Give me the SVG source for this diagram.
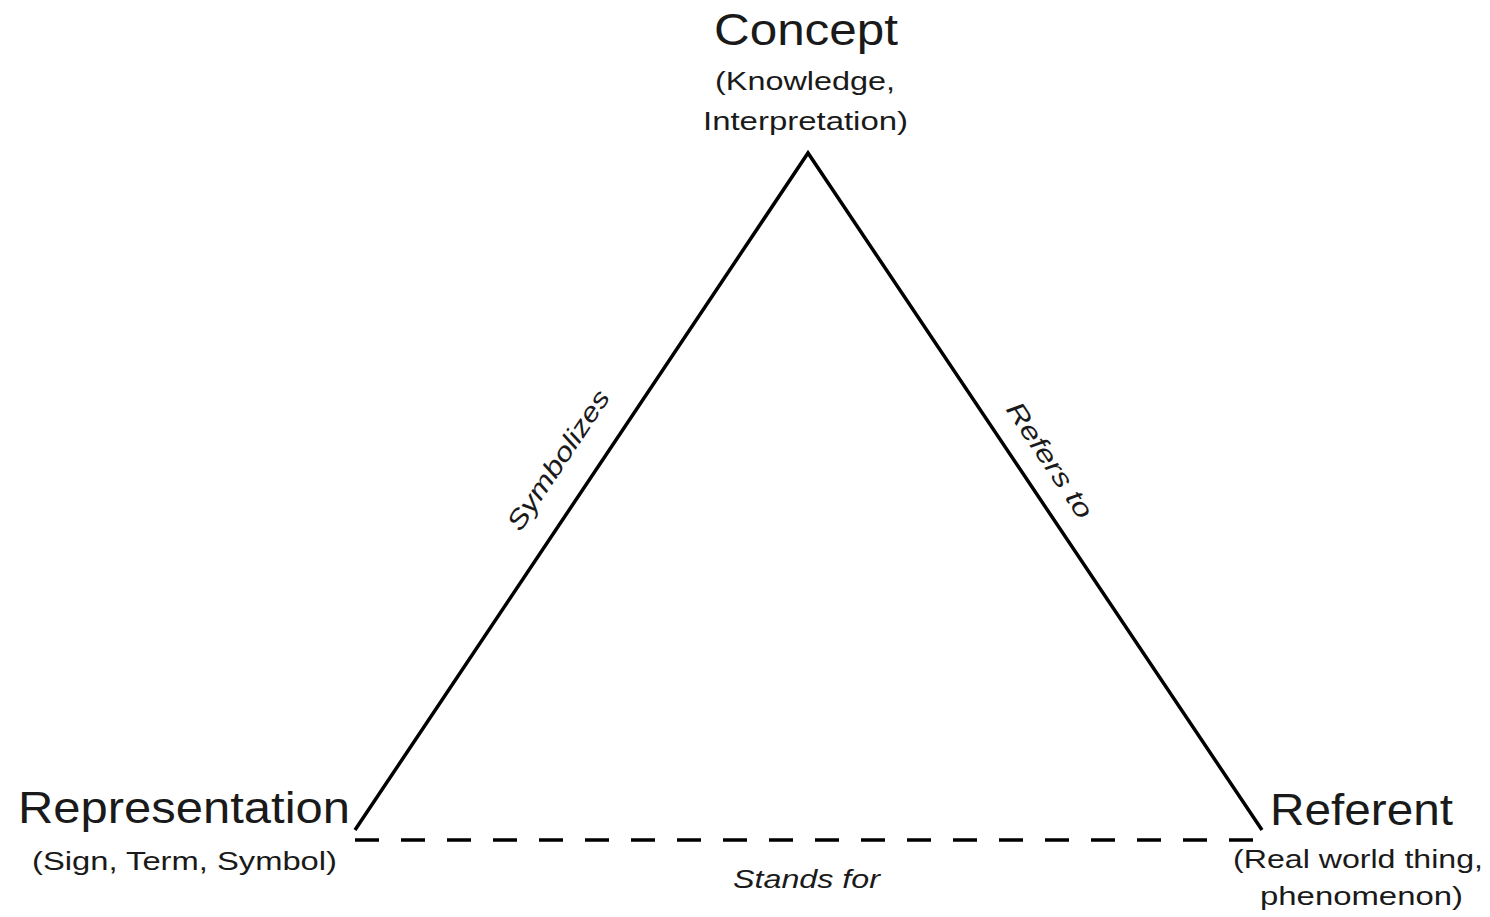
<svg xmlns="http://www.w3.org/2000/svg" width="1490" height="917" viewBox="0 0 1490 917">
<style>
text{font-family:"Liberation Sans",Arial,sans-serif;fill:#1a1a1a}
.big{font-size:44px}
.sm{font-size:25px}
.lab{font-size:26px;font-style:italic}
.edge{fill:none;stroke:#000;stroke-width:3.5;stroke-linejoin:miter}
.dash{stroke-dasharray:24 22}
</style>
<rect width="1490" height="917" fill="#fff"/>
<g id="connectors">
<polyline class="edge" points="355,830 808,153 1262,830"/>
<line class="edge dash" x1="355" y1="840" x2="1262" y2="840"/>
<text class="lab" transform="translate(565.5,465) rotate(-56.2)" x="-81.5" y="0" textLength="163" lengthAdjust="spacingAndGlyphs">Symbolizes</text>
<text class="lab" transform="translate(1042.5,465) rotate(56.2)" x="-67" y="0" textLength="134" lengthAdjust="spacingAndGlyphs">Refers to</text>
<text class="lab" x="733" y="888" textLength="147" lengthAdjust="spacingAndGlyphs">Stands for</text>
</g>
<g id="concept">
<text class="big" x="714" y="45" textLength="184" lengthAdjust="spacingAndGlyphs">Concept</text>
<text class="sm" x="715" y="90" textLength="180" lengthAdjust="spacingAndGlyphs">(Knowledge,</text>
<text class="sm" x="703" y="130" textLength="205" lengthAdjust="spacingAndGlyphs">Interpretation)</text>
</g>
<g id="representation">
<text class="big" x="18" y="823" textLength="332" lengthAdjust="spacingAndGlyphs">Representation</text>
<text class="sm" x="32" y="870" textLength="305" lengthAdjust="spacingAndGlyphs">(Sign, Term, Symbol)</text>
</g>
<g id="referent">
<text class="big" x="1270" y="825" textLength="183" lengthAdjust="spacingAndGlyphs">Referent</text>
<text class="sm" x="1233" y="868" textLength="250" lengthAdjust="spacingAndGlyphs">(Real world thing,</text>
<text class="sm" x="1260" y="905" textLength="203" lengthAdjust="spacingAndGlyphs">phenomenon)</text>
</g>
</svg>
